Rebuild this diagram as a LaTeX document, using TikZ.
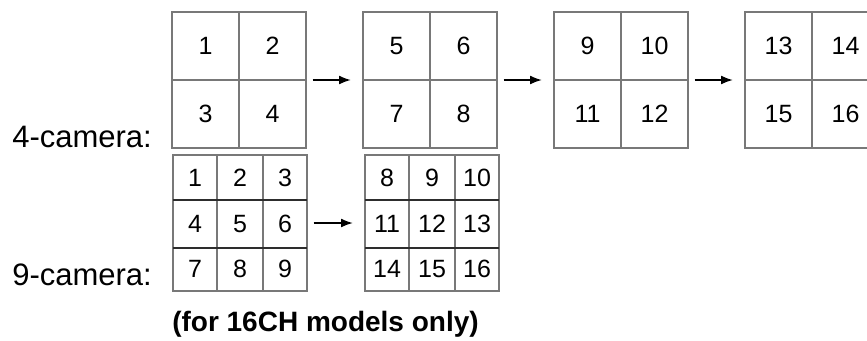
\documentclass[tikz,border=0pt]{standalone}
\usepackage{fontspec}
\setmainfont{Liberation Sans}
\usetikzlibrary{arrows.meta,calc}
\definecolor{gridgray}{RGB}{120,120,120}
\definecolor{rowdark}{RGB}{45,45,45}
\begin{document}
\begin{tikzpicture}[x=0.75pt,y=-0.75pt,
  quad/.style={draw=gridgray, line width=1.1pt, minimum width=100.5pt, minimum height=102pt, inner sep=0pt, outer sep=0pt},
  nine/.style={draw=gridgray, line width=1.1pt, minimum width=100.5pt, minimum height=102pt, inner sep=0pt, outer sep=0pt},
  sep/.style={draw=gridgray, line width=1.1pt},
  rowsep/.style={draw=rowdark, line width=1pt},
  num/.style={font=\fontsize{18.75pt}{22pt}\selectfont, inner sep=0pt, text height=13.4pt, text depth=0pt},
  lbl/.style={font=\fontsize{23.25pt}{28pt}\selectfont, inner sep=0pt, anchor=base west},
  note/.style={font=\fontsize{21pt}{26pt}\selectfont\bfseries, inner sep=0pt, anchor=base west},
  flow/.style={-{Latex[length=9pt,width=6.75pt]}, line width=1.4pt, shorten <=5pt, shorten >=9pt}]
\useasboundingbox (0,0) rectangle (867,340);

% 4-camera grids
\foreach \gname/\cx/\na/\nb/\nc/\nd in {g1/239/1/2/3/4, g2/430/5/6/7/8, g3/621/9/10/11/12, g4/812/13/14/15/16} {
  \node[quad] (\gname) at (\cx,80) {};
  \draw[sep] (\gname.north) -- (\gname.south);
  \draw[sep] (\gname.west) -- (\gname.east);
  \node[num] (\gname-a) at (\cx-33.5,45.5) {\na};
  \node[num] (\gname-b) at (\cx+33.5,45.5) {\nb};
  \node[num] (\gname-c) at (\cx-33.5,113.5) {\nc};
  \node[num] (\gname-d) at (\cx+33.5,113.5) {\nd};
}
\draw[flow] (g1.east) -- (g2.west);
\draw[flow] (g2.east) -- (g3.west);
\draw[flow] (g3.east) -- (g4.west);

% 9-camera grids
\foreach \gname/\cx/\nums in {h1/240/{1,2,3,4,5,6,7,8,9}, h2/432/{8,9,10,11,12,13,14,15,16}} {
  \node[nine] (\gname) at (\cx,223) {};
  \draw[sep] ($(\gname.north west)+(44,0)$) -- ($(\gname.south west)+(44,0)$);
  \draw[sep] ($(\gname.north west)+(90,0)$) -- ($(\gname.south west)+(90,0)$);
  \draw[rowsep] ($(\gname.north west)+(0,45)$) -- ($(\gname.north east)+(0,45)$);
  \draw[rowsep] ($(\gname.north west)+(0,93)$) -- ($(\gname.north east)+(0,93)$);
  \foreach \nn [count=\ii from 0] in \nums {
    \pgfmathsetmacro{\colx}{{22,67,112}[mod(\ii,3)]}
    \pgfmathsetmacro{\rowy}{{177.5,223.5,269}[int(\ii/3)]}
    \node[num] (\gname-\ii) at (\cx-67+\colx, \rowy) {\nn};
  }
}
\draw[flow] (h1.east) -- (h2.west);

% labels
\node[lbl] (l4) at (12,147) {4-camera:};
\node[lbl] (l9) at (12,285) {9-camera:};
\node[note] (nt) at (172,331) {(for 16CH models only)};
\end{tikzpicture}
\end{document}
